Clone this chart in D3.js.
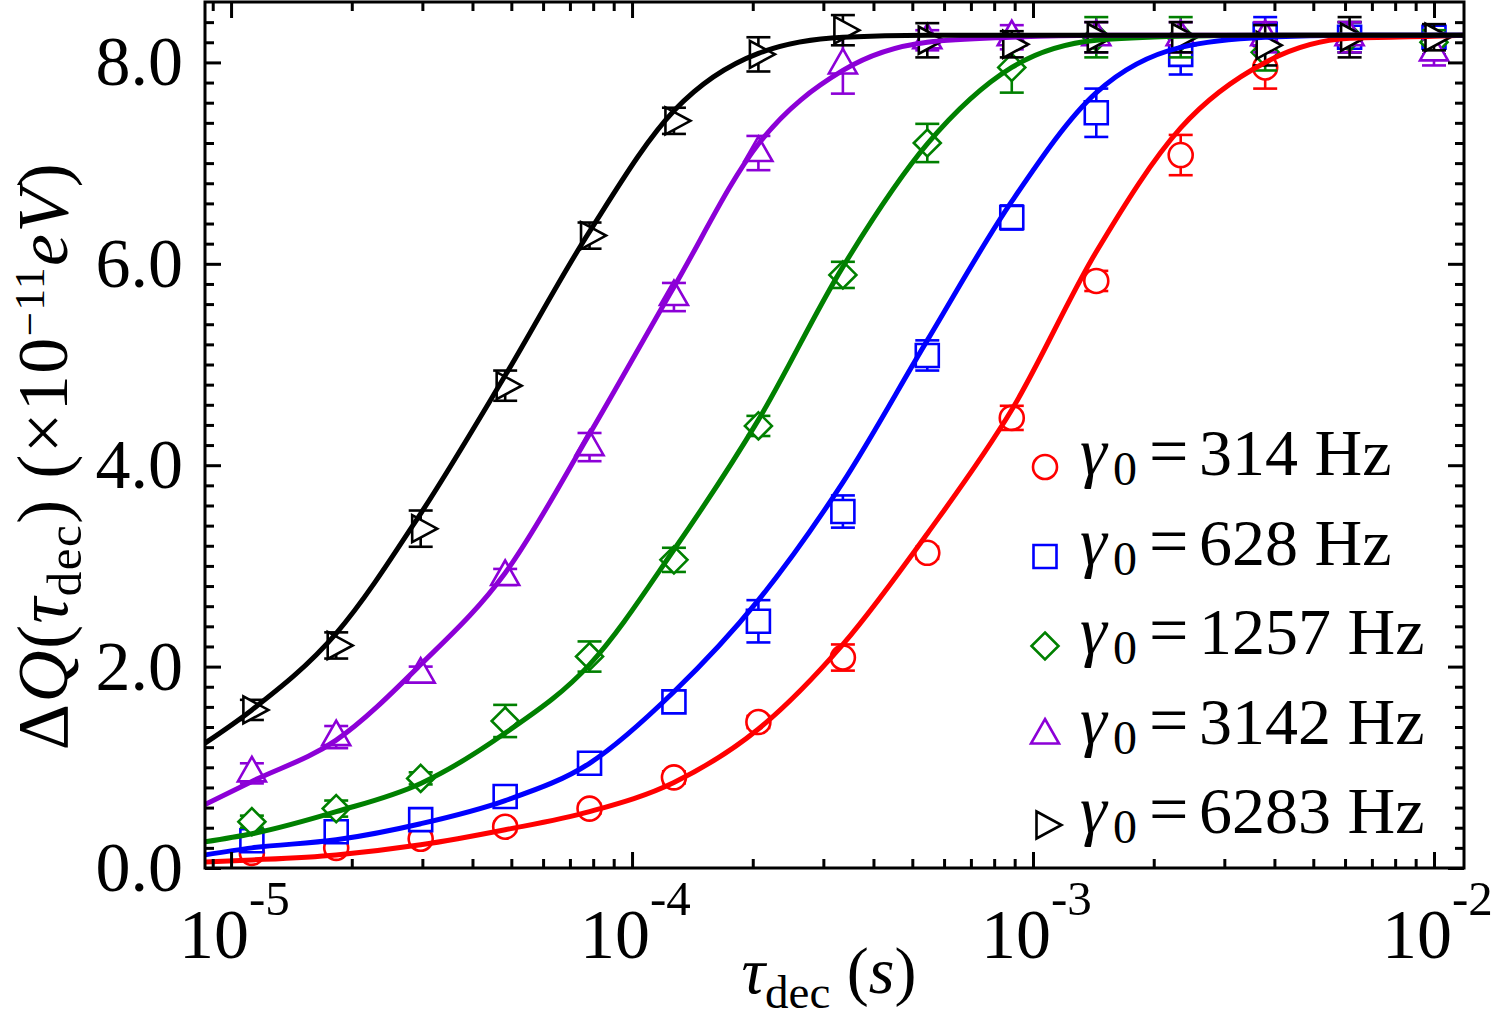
<!DOCTYPE html>
<html><head><meta charset="utf-8">
<script src="https://cdn.jsdelivr.net/npm/d3@7"></script>
<style>
body{margin:0;background:#fff;}
svg{display:block;}
text{font-family:"Liberation Serif","Times New Roman",serif;white-space:pre;}
</style>
</head><body>
<svg id="chart" width="1498" height="1019"></svg>
<script>
// ---- data ----
const tau = [1.127e-5, 1.829e-5, 2.971e-5, 4.826e-5, 7.834e-5, 1.272e-4, 2.066e-4, 3.356e-4,
             5.449e-4, 8.851e-4, 1.438e-3, 2.335e-3, 3.793e-3, 6.159e-3, 1.0e-2];

const q314  = [0.15, 0.20, 0.29, 0.41, 0.59, 0.90, 1.45, 2.09, 3.13, 4.47, 5.83, 7.08, 7.95, 8.25, 8.25];
const q628  = [0.27, 0.36, 0.48, 0.71, 1.04, 1.65, 2.45, 3.54, 5.09, 6.46, 7.50, 8.08, 8.28, 8.25, 8.25];
const q1257 = [0.46, 0.59, 0.89, 1.46, 2.10, 3.06, 4.39, 5.89, 7.20, 7.95, 8.25, 8.25, 8.10, 8.25, 8.20];
const q3142 = [0.94, 1.30, 1.92, 2.89, 4.18, 5.67, 7.10, 7.97, 8.22, 8.25, 8.25, 8.25, 8.25, 8.25, 8.10];
const q6283 = [1.57, 2.21, 3.37, 4.79, 6.28, 7.42, 8.08, 8.32, 8.22, 8.18, 8.25, 8.25, 8.17, 8.25, 8.25];

const e314  = [0.05, 0.05, 0.05, 0.05, 0.05, 0.06, 0.06, 0.13, 0.06, 0.12, 0.10, 0.20, 0.21, 0.15, 0.12];
const e628  = [0.10, 0.06, 0.06, 0.06, 0.06, 0.08, 0.21, 0.16, 0.15, 0.12, 0.24, 0.20, 0.17, 0.15, 0.12];
const e1257 = [0.06, 0.08, 0.06, 0.16, 0.15, 0.12, 0.10, 0.13, 0.19, 0.25, 0.20, 0.20, 0.18, 0.15, 0.12];
const e3142 = [0.10, 0.11, 0.08, 0.08, 0.14, 0.14, 0.17, 0.28, 0.10, 0.12, 0.15, 0.15, 0.15, 0.15, 0.13];
const e6283 = [0.10, 0.13, 0.18, 0.15, 0.13, 0.13, 0.17, 0.15, 0.17, 0.13, 0.15, 0.15, 0.20, 0.20, 0.13];

// fitted curves
const tauFit = [8.61e-6, 1.127e-5, 1.829e-5, 2.971e-5, 4.826e-5, 7.834e-5, 1.272e-4, 2.066e-4, 3.356e-4,
                5.449e-4, 8.851e-4, 1.438e-3, 2.335e-3, 3.793e-3, 6.159e-3, 1.0e-2, 1.188e-2];
const fit314  = [0.06, 0.08, 0.13, 0.23, 0.38, 0.56, 0.85, 1.38, 2.22, 3.32, 4.55, 6.12, 7.35, 8.00, 8.24, 8.26, 8.27];
const fit628  = [0.13, 0.20, 0.28, 0.44, 0.67, 1.04, 1.75, 2.66, 3.83, 5.24, 6.62, 7.70, 8.15, 8.25, 8.27, 8.27, 8.27];
const fit1257 = [0.26, 0.34, 0.56, 0.84, 1.34, 2.02, 3.16, 4.45, 5.97, 7.19, 7.95, 8.22, 8.26, 8.27, 8.27, 8.27, 8.27];
const fit3142 = [0.63, 0.86, 1.27, 2.02, 2.93, 4.31, 5.77, 7.19, 7.92, 8.20, 8.25, 8.27, 8.27, 8.27, 8.27, 8.27, 8.27];
const fit6283 = [1.24, 1.57, 2.33, 3.52, 4.89, 6.32, 7.52, 8.09, 8.25, 8.27, 8.27, 8.27, 8.27, 8.27, 8.27, 8.27, 8.27];

const legendNames = ["314", "628", "1257", "3142", "6283"];
const xTickValues = [1e-5, 1e-4, 1e-3, 1e-2];
const xTickExponents = ["-5", "-4", "-3", "-2"];
const yTickValues = [0, 2, 4, 6, 8];
const yTickLabels = ["0.0", "2.0", "4.0", "6.0", "8.0"];

// ---- drawing ----
const W = 1498, H = 1019;
const M = {left: 205, right: 1464, top: 2, bottom: 868};
const svg = d3.select("#chart");
svg.append("rect").attr("width", W).attr("height", H).attr("fill", "#fff");

const x = d3.scaleLog().domain([8.61e-6, 1.188e-2]).range([M.left, M.right]);
const y = d3.scaleLinear().domain([0, 8.6]).range([M.bottom, M.top]);

svg.append("defs").append("clipPath").attr("id", "clip")
  .append("rect").attr("x", M.left).attr("y", M.top)
  .attr("width", M.right - M.left).attr("height", M.bottom - M.top);

const shapes = {
  circle: d3.symbol().type(d3.symbolCircle).size(Math.PI * 12 * 12)(),
  square: "M-11.5,-11.5H11.5V11.5H-11.5Z",
  diamond: "M0,-13.5L13.5,0L0,13.5L-13.5,0Z",
  triUp: "M0,-16.5L14,8L-14,8Z",
  triRight: "M-8.5,-13.5L16.5,0L-8.5,13.5Z"
};

const series = [
  {name: legendNames[0], vals: q314,  err: e314,  fit: fit314,  color: "#ff0000", shape: "circle"},
  {name: legendNames[1], vals: q628,  err: e628,  fit: fit628,  color: "#0000ff", shape: "square"},
  {name: legendNames[2], vals: q1257, err: e1257, fit: fit1257, color: "#008000", shape: "diamond"},
  {name: legendNames[3], vals: q3142, err: e3142, fit: fit3142, color: "#8c00d7", shape: "triUp"},
  {name: legendNames[4], vals: q6283, err: e6283, fit: fit6283, color: "#000000", shape: "triRight"}
];

const plot = svg.append("g").attr("clip-path", "url(#clip)");
const capW = 12;

series.forEach(s => {
  const pts = tau.map((t, i) => ({t, v: s.vals[i], e: s.err[i]}));
  const g = plot.append("g");
  g.selectAll("line.eb").data(pts).join("line").attr("class", "eb")
    .attr("x1", d => x(d.t)).attr("x2", d => x(d.t))
    .attr("y1", d => y(d.v - d.e)).attr("y2", d => y(d.v + d.e))
    .attr("stroke", s.color).attr("stroke-width", 2.6);
  ["lo", "hi"].forEach(k => {
    g.selectAll("line.cap" + k).data(pts).join("line").attr("class", "cap" + k)
      .attr("x1", d => x(d.t) - capW).attr("x2", d => x(d.t) + capW)
      .attr("y1", d => y(k === "lo" ? d.v - d.e : d.v + d.e))
      .attr("y2", d => y(k === "lo" ? d.v - d.e : d.v + d.e))
      .attr("stroke", s.color).attr("stroke-width", 2.6);
  });
  g.selectAll("path.m").data(pts).join("path").attr("class", "m")
    .attr("transform", d => `translate(${x(d.t)},${y(d.v)})`)
    .attr("d", shapes[s.shape])
    .attr("fill", "#fff").attr("stroke", s.color).attr("stroke-width", 2.6);
});

const line = d3.line().x(d => x(d[0])).y(d => y(d[1])).curve(d3.curveMonotoneX);
series.forEach(s => {
  plot.append("path").datum(tauFit.map((t, i) => [t, s.fit[i]]))
    .attr("d", line).attr("fill", "none").attr("stroke", s.color)
    .attr("stroke-width", 5).attr("stroke-linejoin", "round");
});

// ---- axes (ticks inward on all four sides) ----
const xMinor = [];
for (let e = -6; e <= -2; e++) for (let m = 2; m <= 9; m++) {
  const v = m * Math.pow(10, e);
  if (v > x.domain()[0] && v < x.domain()[1]) xMinor.push(v);
}
const yMinor = d3.range(0, 86, 2).map(v => v / 10).filter(v => v % 2 !== 0);

function styleTicks(g) {
  g.select(".domain").remove();
  g.selectAll(".tick line").attr("stroke", "#000").attr("stroke-width", 3);
}
const MAJ = 16, MIN = 9;
svg.append("g").attr("transform", `translate(0,${M.bottom})`)
  .call(d3.axisBottom(x).tickValues(xTickValues).tickSize(-MAJ).tickFormat("")).call(styleTicks);
svg.append("g").attr("transform", `translate(0,${M.bottom})`)
  .call(d3.axisBottom(x).tickValues(xMinor).tickSize(-MIN).tickFormat("")).call(styleTicks);
svg.append("g").attr("transform", `translate(0,${M.top})`)
  .call(d3.axisTop(x).tickValues(xTickValues).tickSize(-MAJ).tickFormat("")).call(styleTicks);
svg.append("g").attr("transform", `translate(0,${M.top})`)
  .call(d3.axisTop(x).tickValues(xMinor).tickSize(-MIN).tickFormat("")).call(styleTicks);

const yAx = svg.append("g").attr("transform", `translate(${M.left},0)`)
  .call(d3.axisLeft(y).tickValues(yTickValues).tickSize(-MAJ).tickPadding(22)
    .tickFormat((d, i) => yTickLabels[i])).call(styleTicks);
yAx.attr("font-family", null).attr("font-size", null);
yAx.selectAll(".tick text").attr("font-size", 70).attr("fill", "#000")
  .style("font-family", "'Liberation Serif','Times New Roman',serif");
svg.append("g").attr("transform", `translate(${M.left},0)`)
  .call(d3.axisLeft(y).tickValues(yMinor).tickSize(-MIN).tickFormat("")).call(styleTicks);
svg.append("g").attr("transform", `translate(${M.right},0)`)
  .call(d3.axisRight(y).tickValues(yTickValues).tickSize(-MAJ).tickFormat("")).call(styleTicks);
svg.append("g").attr("transform", `translate(${M.right},0)`)
  .call(d3.axisRight(y).tickValues(yMinor).tickSize(-MIN).tickFormat("")).call(styleTicks);

// frame
svg.append("rect").attr("x", M.left).attr("y", M.top)
  .attr("width", M.right - M.left).attr("height", M.bottom - M.top)
  .attr("fill", "none").attr("stroke", "#000").attr("stroke-width", 3);

// x tick labels 10^n
xTickValues.forEach((v, i) => {
  const t = svg.append("text").attr("x", x(v) - 52).attr("y", 958)
    .attr("font-size", 70).attr("fill", "#000");
  t.append("tspan").text("10");
  t.append("tspan").attr("font-size", 49).attr("dy", -43).text(xTickExponents[i]);
});

// x axis title
const xt = svg.append("text").attr("x", 829).attr("y", 993).attr("text-anchor", "middle")
  .attr("font-size", 66).attr("fill", "#000");
xt.append("tspan").attr("font-style", "italic").text("τ");
xt.append("tspan").attr("font-size", 47).attr("dy", 15).text("dec");
xt.append("tspan").attr("dy", -15).text(" (");
xt.append("tspan").attr("font-style", "italic").text("s");
xt.append("tspan").text(")");

// y axis title
const yt = svg.append("text").attr("transform", "translate(67,456) rotate(-90)")
  .attr("text-anchor", "middle").attr("font-size", 72).attr("fill", "#000")
  .style("letter-spacing", "1.5px");
yt.append("tspan").text("Δ");
yt.append("tspan").attr("font-style", "italic").text("Q");
yt.append("tspan").text("(");
yt.append("tspan").attr("font-style", "italic").text("τ");
yt.append("tspan").attr("font-size", 49).attr("dy", 14).text("dec");
yt.append("tspan").attr("dy", -14).text(") (×10");
yt.append("tspan").attr("font-size", 43).attr("dy", -23).text("−11");
yt.append("tspan").attr("dy", 23).attr("font-style", "italic").text("eV");
yt.append("tspan").text(")");

// legend
series.forEach((s, i) => {
  const cy = 467 + i * 89.5;
  const base = cy + 8;
  svg.append("path").attr("transform", `translate(1045,${cy})`).attr("d", shapes[s.shape])
    .attr("fill", "#fff").attr("stroke", s.color).attr("stroke-width", 2.6);
  svg.append("text").attr("x", 1080).attr("y", base).attr("font-size", 68)
    .attr("font-style", "italic").attr("fill", "#000").text("γ");
  svg.append("text").attr("x", 1113).attr("y", base + 10).attr("font-size", 48)
    .attr("fill", "#000").text("0");
  svg.append("text").attr("x", 1149).attr("y", base).attr("font-size", 70)
    .attr("fill", "#000").text("=");
  svg.append("text").attr("x", 1199).attr("y", base).attr("font-size", 66)
    .attr("fill", "#000").text(s.name + " Hz");
});
</script>
</body></html>
